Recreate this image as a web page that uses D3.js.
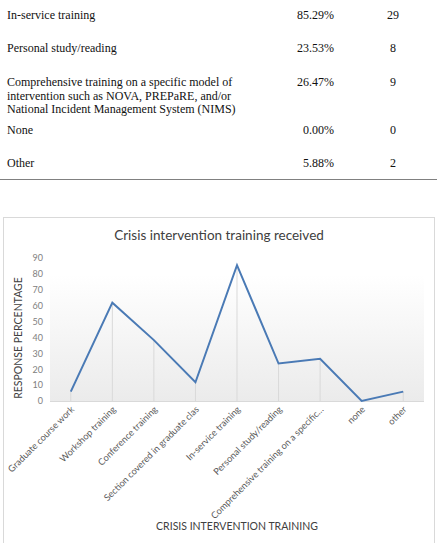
<!DOCTYPE html>
<html>
<head>
<meta charset="utf-8">
<script src="https://cdn.jsdelivr.net/npm/d3@7"></script>
<style>
  body { margin: 0; background: #fff; }
  svg { display: block; }
</style>
</head>
<body>
<div id="chart"></div>
<script>
// table rows above the chart
var tableLabels = [
    ["In-service training"],
    ["Personal study/reading"],
    ["Comprehensive training on a specific model of", "intervention such as NOVA, PREPaRE, and/or", "National Incident Management System (NIMS)"],
    ["None"],
    ["Other"]
];
var tablePct = ["85.29%", "23.53%", "26.47%", "0.00%", "5.88%"];
var tableCount = ["29", "8", "9", "0", "2"];

// line chart data
var categories = [
    "Graduate course work", "Workshop training", "Conference training",
    "Section covered in graduate clas", "In-service training", "Personal study/reading",
    "Comprehensive training on a specific\u2026", "none", "other"
];
var values = [5.88, 61.76, 38.24, 11.76, 85.29, 23.53, 26.47, 0, 5.88];
var yTicks = [0, 10, 20, 30, 40, 50, 60, 70, 80, 90];

var W = 440, H = 543;
var svg = d3.select("#chart").append("svg")
    .attr("width", W)
    .attr("height", H);

// ---- table ----
var rowY = [19, 52, 86, 134, 167]; // baseline of first line of each row
var tbl = svg.append("g")
    .attr("font-family", "'Liberation Serif', 'Times New Roman', serif")
    .attr("font-size", 12)
    .attr("fill", "#111");

tableLabels.forEach(function (lines, i) {
    lines.forEach(function (t, k) {
        tbl.append("text")
            .attr("x", 7)
            .attr("y", rowY[i] + k * 13.7)
            .text(t);
    });
    tbl.append("text")
        .attr("x", 334)
        .attr("y", rowY[i])
        .attr("text-anchor", "end")
        .text(tablePct[i]);
    tbl.append("text")
        .attr("x", 393)
        .attr("y", rowY[i])
        .attr("text-anchor", "middle")
        .text(tableCount[i]);
});

svg.append("line")
    .attr("x1", 0).attr("x2", 437)
    .attr("y1", 179.5).attr("y2", 179.5)
    .attr("stroke", "#808080")
    .attr("stroke-width", 1);

// ---- chart ----
svg.append("rect")
    .attr("x", 3.5).attr("y", 217.5)
    .attr("width", 431).attr("height", 330)
    .attr("fill", "#fff")
    .attr("stroke", "#d9d9d9");

var left = 50, right = 424, bottom = 401;

var x = d3.scaleBand()
    .domain(categories)
    .range([left, right]);

var y = d3.scaleLinear()
    .domain([0, 90])
    .range([bottom, 257.7]);

// plot area gradient
var grad = svg.append("defs").append("linearGradient")
    .attr("id", "plotfill")
    .attr("x1", 0).attr("y1", 0).attr("x2", 0).attr("y2", 1);
grad.append("stop").attr("offset", "0%").attr("stop-color", "#ffffff");
grad.append("stop").attr("offset", "100%").attr("stop-color", "#ebebeb");

svg.append("rect")
    .attr("x", left).attr("y", 275)
    .attr("width", right - left).attr("height", bottom - 275)
    .attr("fill", "url(#plotfill)");

var cx = function (d) { return x(d) + x.bandwidth() / 2; };

// drop lines
svg.append("g").selectAll("line")
    .data(categories)
    .enter()
    .append("line")
    .attr("x1", function (d) { return cx(d); })
    .attr("x2", function (d) { return cx(d); })
    .attr("y1", function (d, i) { return y(values[i]); })
    .attr("y2", bottom)
    .attr("stroke", "#d9d9d9")
    .attr("stroke-width", 1);

// x axis line
svg.append("line")
    .attr("x1", left).attr("x2", right)
    .attr("y1", bottom + 0.5).attr("y2", bottom + 0.5)
    .attr("stroke", "#d9d9d9");

// y axis labels
var yAxis = svg.append("g")
    .attr("transform", "translate(" + (left - 7) + ",0)")
    .call(d3.axisLeft(y).tickValues(yTicks).tickSize(0).tickPadding(0));
yAxis.select(".domain").remove();
yAxis.selectAll("text")
    .attr("font-family", "Lato, 'Open Sans', sans-serif")
    .attr("font-size", 9)
    .attr("fill", "#808080");

// x axis labels
var xAxis = svg.append("g")
    .attr("transform", "translate(0," + bottom + ")")
    .call(d3.axisBottom(x).tickSize(0).tickPadding(0));
xAxis.select(".domain").remove();
xAxis.selectAll("text")
    .attr("font-family", "Lato, 'Open Sans', sans-serif")
    .attr("font-size", 9.2)
    .attr("fill", "#595959")
    .attr("text-anchor", "end")
    .attr("dy", 0)
    .attr("y", 0)
    .attr("transform", "translate(4,9) rotate(-45)");

// the line
var line = d3.line()
    .x(function (d, i) { return cx(categories[i]); })
    .y(function (d) { return y(d); });

svg.append("path")
    .datum(values)
    .attr("fill", "none")
    .attr("stroke", "#4a7ab5")
    .attr("stroke-width", 2)
    .attr("stroke-linejoin", "miter")
    .attr("d", line);

// titles
svg.append("text")
    .attr("x", 219)
    .attr("y", 240)
    .attr("text-anchor", "middle")
    .attr("font-family", "Lato, 'Open Sans', sans-serif")
    .attr("font-size", 13.5)
    .attr("fill", "#404040")
    .text("Crisis intervention training received");

svg.append("text")
    .attr("transform", "translate(22,338) rotate(-90)")
    .attr("text-anchor", "middle")
    .attr("font-family", "Lato, 'Open Sans', sans-serif")
    .attr("font-size", 10.5)
    .attr("fill", "#404040")
    .text("RESPONSE PERCENTAGE");

svg.append("text")
    .attr("x", 237)
    .attr("y", 530)
    .attr("text-anchor", "middle")
    .attr("font-family", "Lato, 'Open Sans', sans-serif")
    .attr("font-size", 10.5)
    .attr("fill", "#404040")
    .text("CRISIS INTERVENTION TRAINING");
</script>
</body>
</html>
